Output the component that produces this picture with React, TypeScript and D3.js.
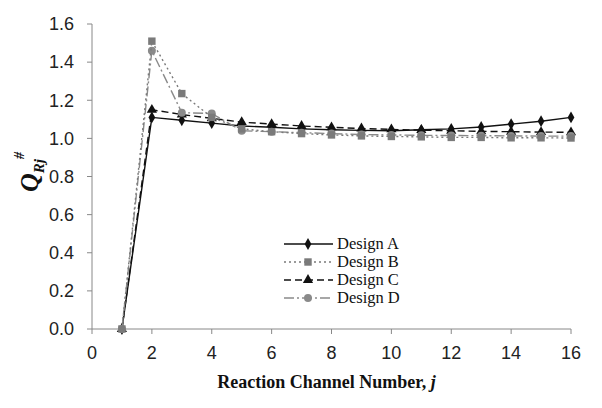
import * as d3 from "d3";

const channels = [1, 2, 3, 4, 5, 6, 7, 8, 9, 10, 11, 12, 13, 14, 15, 16];
const designA = [0, 1.11, 1.095, 1.08, 1.065, 1.058, 1.05, 1.045, 1.042, 1.04, 1.045, 1.05, 1.06, 1.075, 1.09, 1.11];
const designB = [0, 1.51, 1.235, 1.11, 1.05, 1.035, 1.025, 1.018, 1.013, 1.01, 1.008, 1.005, 1.005, 1.003, 1.003, 1.002];
const designC = [0, 1.15, 1.125, 1.105, 1.085, 1.075, 1.065, 1.058, 1.052, 1.047, 1.043, 1.04, 1.037, 1.035, 1.033, 1.032];
const designD = [0, 1.46, 1.135, 1.13, 1.04, 1.035, 1.03, 1.025, 1.02, 1.018, 1.016, 1.015, 1.014, 1.013, 1.012, 1.012];
const xTicks = [0, 2, 4, 6, 8, 10, 12, 14, 16];
const yTicks = [0, 0.2, 0.4, 0.6, 0.8, 1.0, 1.2, 1.4, 1.6];

const series = [
  { name: "Design A", values: designA, color: "#111", dash: "none", symbol: d3.symbolDiamond, size: 40 },
  { name: "Design B", values: designB, color: "#7a7a7a", dash: "2,3", symbol: d3.symbolSquare, size: 55 },
  { name: "Design C", values: designC, color: "#111", dash: "7,4", symbol: d3.symbolTriangle, size: 45 },
  { name: "Design D", values: designD, color: "#8a8a8a", dash: "10,3,2,3", symbol: d3.symbolCircle, size: 50 },
];
// draw order so the grey squares sit on top, as in the original
const drawOrder = [0, 2, 3, 1];

export default function App() {
  const width = 602;
  const height = 408;
  const left = 92;
  const right = 571;
  const top = 24;
  const bottom = 329;

  const x = d3.scaleLinear().domain([0, 16]).range([left, right]);
  const y = d3.scaleLinear().domain([0, 1.6]).range([bottom, top]);

  const line = d3
    .line<number>()
    .x((_, i) => x(channels[i]))
    .y((d) => y(d));

  const tickFont = "Arial, 'Liberation Sans', sans-serif";
  const serif = "'Times New Roman', 'Liberation Serif', serif";

  return (
    <svg
      width={width}
      height={height}
      style={{ position: "absolute", left: 0, top: 0, background: "#fff" }}
    >
      {/* axes */}
      <line x1={left} x2={left} y1={top} y2={bottom} stroke="#888" strokeWidth={1} />
      <line x1={left} x2={right} y1={bottom} y2={bottom} stroke="#888" strokeWidth={1} />
      {yTicks.map((t) => (
        <g key={"y" + t}>
          <line x1={left - 5} x2={left} y1={y(t)} y2={y(t)} stroke="#888" />
          <text
            x={left - 18}
            y={y(t)}
            dy="0.35em"
            textAnchor="end"
            fontSize={18}
            fontFamily={tickFont}
            fill="#222"
          >
            {t.toFixed(1)}
          </text>
        </g>
      ))}
      {xTicks.map((t) => (
        <g key={"x" + t}>
          <line x1={x(t)} x2={x(t)} y1={bottom} y2={bottom + 5} stroke="#888" />
          <text
            x={x(t)}
            y={bottom + 30}
            textAnchor="middle"
            fontSize={18}
            fontFamily={tickFont}
            fill="#222"
          >
            {t}
          </text>
        </g>
      ))}

      {/* series */}
      {drawOrder.map((k) => {
        const s = series[k];
        return (
          <g key={s.name}>
            <path
              d={line(s.values) ?? ""}
              fill="none"
              stroke={s.color}
              strokeWidth={1.4}
              strokeDasharray={s.dash}
            />
            {s.values.map((v, i) => (
              <path
                key={i}
                d={d3.symbol(s.symbol, s.size)() ?? ""}
                transform={`translate(${x(channels[i])},${y(v)})`}
                fill={s.color}
              />
            ))}
          </g>
        );
      })}

      {/* legend */}
      {series.map((s, i) => {
        const ly = 244 + i * 18;
        return (
          <g key={"lg" + s.name}>
            <line x1={284} x2={333} y1={ly} y2={ly} stroke={s.color} strokeWidth={1.4} strokeDasharray={s.dash} />
            <path d={d3.symbol(s.symbol, s.size)() ?? ""} transform={`translate(308,${ly})`} fill={s.color} />
            <text x={337} y={ly} dy="0.33em" fontSize={16.5} fontFamily={serif} fill="#111">
              {s.name}
            </text>
          </g>
        );
      })}

      {/* axis titles */}
      <text
        x={(left + right) / 2 - 5}
        y={388}
        textAnchor="middle"
        fontSize={18}
        fontWeight="bold"
        fontFamily={serif}
        fill="#111"
      >
        Reaction Channel Number, <tspan fontStyle="italic">j</tspan>
      </text>
      <text
        transform="translate(38,172) rotate(-90)"
        textAnchor="middle"
        fontFamily={serif}
        fontWeight="bold"
        fontStyle="italic"
        fill="#111"
      >
        <tspan fontSize={26}>Q</tspan>
        <tspan fontSize={15} dy={6}>Rj</tspan>
        <tspan fontSize={14} dy={-20}>#</tspan>
      </text>
    </svg>
  );
}
